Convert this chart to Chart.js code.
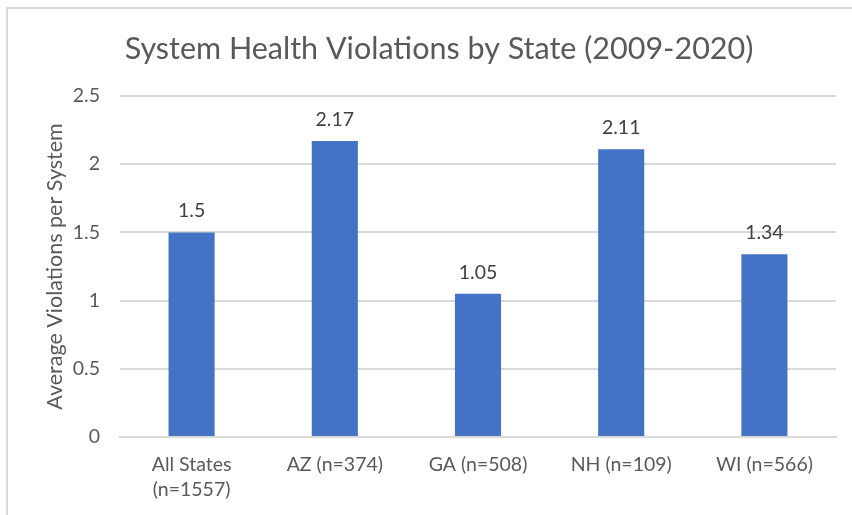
<!DOCTYPE html>
<html>
<head>
<meta charset="utf-8">
<script src="https://cdn.jsdelivr.net/npm/chart.js@4"></script>
<style>
  html, body { margin: 0; padding: 0; background: #ffffff; }
  #wrap { position: relative; width: 852px; height: 515px; overflow: hidden; }
  #frame { position: absolute; left: 6px; top: 7px; width: 900px; height: 600px; border: 2px solid #d9d9d9; box-sizing: border-box; z-index: 0; }
  #c { position: absolute; left: 0; top: 0; z-index: 1; }
</style>
</head>
<body>
<div id="wrap">
  <div id="frame"></div>
  <canvas id="c" width="852" height="515"></canvas>
</div>
<script>
const chartTitle = 'System Health Violations by State (2009-2020)';
const yAxisTitle = 'Average Violations per System';
const categories = [['All States', '(n=1557)'], 'AZ (n=374)', 'GA (n=508)', 'NH (n=109)', 'WI (n=566)'];
const violations = [1.5, 2.17, 1.05, 2.11, 1.34];
const yMin = 0;
const yMax = 2.5;
const yStep = 0.5;

const FONT = 'Lato, "Open Sans", sans-serif';
const TEXT = '#595959';

const dataLabels = {
  id: 'dataLabels',
  afterDatasetsDraw(chart) {
    const ctx = chart.ctx;
    ctx.save();
    ctx.font = '19.5px ' + FONT;
    ctx.fillStyle = '#404040';
    ctx.textAlign = 'center';
    ctx.textBaseline = 'alphabetic';
    chart.data.datasets.forEach((ds, i) => {
      chart.getDatasetMeta(i).data.forEach((bar, j) => {
        ctx.fillText(String(ds.data[j]), bar.x, bar.y - 15);
      });
    });
    ctx.restore();
  }
};

new Chart(document.getElementById('c'), {
  type: 'bar',
  data: {
    labels: categories,
    datasets: [{
      data: violations,
      backgroundColor: '#4472C4',
      borderWidth: 0,
      barPercentage: 0.322,
      categoryPercentage: 1.0
    }]
  },
  options: {
    responsive: false,
    animation: false,
    devicePixelRatio: 1,
    layout: { padding: { left: 42, right: 16, top: 0, bottom: 0 } },
    plugins: {
      legend: { display: false },
      tooltip: { enabled: false },
      title: {
        display: true,
        text: chartTitle,
        color: TEXT,
        font: { family: FONT, size: 30.5, weight: 'normal', lineHeight: 1.2 },
        padding: { top: 31, bottom: 28.4 }
      }
    },
    scales: {
      x: {
        grid: { display: false, drawTicks: false },
        border: { display: true, color: '#d9d9d9', width: 2 },
        ticks: {
          color: TEXT,
          font: { family: FONT, size: 19.5, lineHeight: 1.3 },
          padding: 15,
          maxRotation: 0,
          autoSkip: false
        },
        afterFit(scale) { scale.height = 78; }
      },
      y: {
        min: yMin,
        max: yMax,
        grid: { color: '#d9d9d9', lineWidth: 2, drawTicks: false },
        border: { display: false },
        ticks: {
          stepSize: yStep,
          color: TEXT,
          font: { family: FONT, size: 19.5 },
          padding: 20,
          callback: (v) => String(v)
        },
        title: {
          display: true,
          text: yAxisTitle,
          color: TEXT,
          font: { family: FONT, size: 21.5, weight: 'normal' },
          padding: { top: 0, bottom: 8 }
        },
        afterFit(scale) { scale.width = 78; }
      }
    }
  },
  plugins: [dataLabels]
});
</script>
</body>
</html>
